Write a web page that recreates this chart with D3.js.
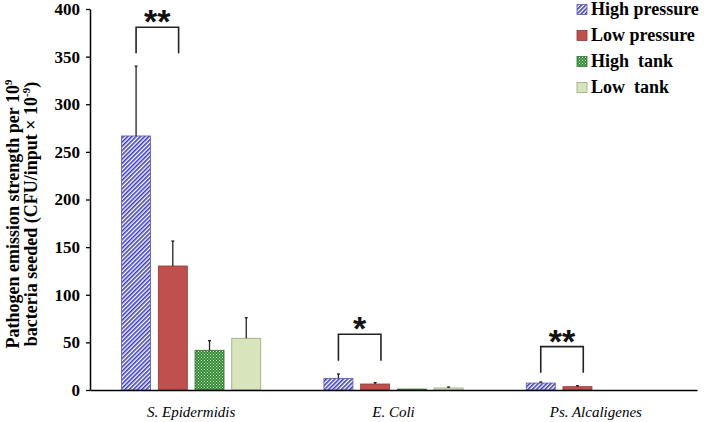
<!DOCTYPE html>
<html><head><meta charset="utf-8">
<script src="https://cdn.jsdelivr.net/npm/d3@7"></script>
<style>body{margin:0;background:#fff}svg{display:block}</style>
</head><body>
<svg id="c" width="709" height="422"></svg>
<script>
const categories = ["S. Epidermidis", "E. Coli", "Ps. Alcaligenes"];
const seriesNames = ["High pressure", "Low pressure", "High  tank", "Low  tank"];
const highPressure = [266.7, 12.2, 7.3];
const lowPressure = [130.2, 6.3, 3.5];
const highTank = [41.7, 1.0, 0];
const lowTank = [54.3, 2.1, 0];
const highPressureErr = [73.3, 4.6, 1.1];
const lowPressureErr = [26.2, 1.4, 1.0];
const highTankErr = [10.1, 0, 0];
const lowTankErr = [21.6, 1.0, 0];
const yTicks = [0, 50, 100, 150, 200, 250, 300, 350, 400];
const sigLabels = ["**", "*", "**"];
const sigTop = [380.8, 58.5, 45.5];
const sigBottom = [353.5, 30.8, 18.2];

const values = [highPressure, lowPressure, highTank, lowTank];
const errors = [highPressureErr, lowPressureErr, highTankErr, lowTankErr];
const SERIF = "'Liberation Serif', 'Times New Roman', Times, serif";

const svg = d3.select("#c");
const defs = svg.append("defs");
const p1 = defs.append("pattern").attr("id","stripe").attr("patternUnits","userSpaceOnUse")
  .attr("width",3).attr("height",3).attr("patternTransform","rotate(45)");
p1.append("rect").attr("width",3).attr("height",3).attr("fill","#ffffff");
p1.append("rect").attr("width",1.6).attr("height",3).attr("fill","#3b3bc4");
const p2 = defs.append("pattern").attr("id","check").attr("patternUnits","userSpaceOnUse")
  .attr("width",3).attr("height",3);
p2.append("rect").attr("width",3).attr("height",3).attr("fill","#2f8a2f");
p2.append("rect").attr("x",0).attr("y",0).attr("width",1).attr("height",1).attr("fill","#d8efd8");
p2.append("rect").attr("x",1.5).attr("y",1.5).attr("width",1).attr("height",1).attr("fill","#d8efd8");

const fills = ["url(#stripe)", "#c0504d", "url(#check)", "#d8e4bc"];
const strokes = ["#5a5ab0", "#8c3a38", "#3d6b3d", "#98a67a"];

const x0 = d3.scaleBand().domain(categories).range([90, 697]).padding(0);
const x1 = d3.scaleBand().domain(d3.range(4)).range([0, x0.bandwidth()]).paddingInner(0.21).paddingOuter(0.86);
const y = d3.scaleLinear().domain([0, 400]).range([390, 9]);

const g = svg.append("g");
categories.forEach((c, ci) => {
  values.forEach((s, si) => {
    const v = s[ci];
    if (v <= 0) return;
    const bx = x0(c) + x1(si);
    g.append("rect").attr("x", bx).attr("y", y(v)).attr("width", x1.bandwidth())
      .attr("height", y(0) - y(v)).attr("fill", fills[si]).attr("stroke", strokes[si]).attr("stroke-width", 0.8);
    const e = errors[si][ci];
    if (e > 0) {
      const cx = bx + x1.bandwidth() / 2;
      g.append("line").attr("x1", cx).attr("x2", cx).attr("y1", y(v)).attr("y2", y(v + e))
        .attr("stroke", "#222").attr("stroke-width", 1.3);
      g.append("line").attr("x1", cx - 1.5).attr("x2", cx + 1.5).attr("y1", y(v + e)).attr("y2", y(v + e))
        .attr("stroke", "#222").attr("stroke-width", 1.3);
    }
  });
});

const yAxis = d3.axisLeft(y).tickValues(yTicks).tickSize(4).tickPadding(6).tickSizeOuter(0);
const ya = svg.append("g").attr("transform", "translate(90,0)").call(yAxis);
ya.attr("font-family", null);
ya.select(".domain").attr("stroke", "#000").attr("stroke-width", 1.5);
ya.selectAll(".tick line").attr("stroke", "#000").attr("stroke-width", 1.3);
ya.selectAll(".tick text").style("font-family", SERIF)
  .style("font-weight", "bold").style("font-size", "17px").attr("fill", "#000");

const xAxis = d3.axisBottom(x0).tickSize(0).tickPadding(16).tickSizeOuter(0);
const xa = svg.append("g").attr("transform", "translate(0,390)").call(xAxis);
xa.attr("font-family", null);
xa.select(".domain").attr("stroke", "#000").attr("stroke-width", 1.5);
xa.selectAll(".tick text").style("font-family", SERIF)
  .style("font-style", "italic").style("font-size", "15px").attr("fill", "#000");

function title(tx, parts) {
  const t = svg.append("text").attr("transform", `translate(${tx},214) rotate(-90)`)
    .attr("text-anchor", "middle").style("font-family", SERIF)
    .style("font-weight", "bold").style("font-size", "18px").attr("fill", "#000");
  parts.forEach(p => {
    const ts = t.append("tspan").text(p.t);
    if (p.dy) ts.attr("dy", p.dy);
    if (p.fs) ts.style("font-size", p.fs);
  });
}
title(19, [{t: "Pathogen emission strength per 10"}, {t: "9", dy: -7, fs: "11px"}]);
title(37, [{t: "bacteria seeded (CFU/input × 10"}, {t: "-9", dy: -7, fs: "11px"}, {t: ")", dy: 7}]);

categories.forEach((c, ci) => {
  const xl = x0(c) + x1(0) + x1.bandwidth() / 2;
  const xr = x0(c) + x1(1) + x1.bandwidth() * 0.7;
  const yt = y(sigTop[ci]), yb = y(sigBottom[ci]);
  svg.append("path").attr("d", `M${xl},${yb}V${yt}H${xr}V${yb}`)
    .attr("fill", "none").attr("stroke", "#222").attr("stroke-width", 1.6);
  const fs = 34;
  svg.append("text").attr("x", (xl + xr) / 2).attr("y", yt - 4 + 0.3 * fs)
    .attr("text-anchor", "middle").style("font-family", "'Liberation Sans', Arial, sans-serif")
    .style("font-weight", "bold").style("font-size", fs + "px").attr("fill", "#111").text(sigLabels[ci]);
});

const lg = svg.append("g");
seriesNames.forEach((n, i) => {
  const by = 15 + i * 26;
  lg.append("rect").attr("x", 577).attr("y", by - 10.5).attr("width", 10).attr("height", 10)
    .attr("fill", fills[i]).attr("stroke", strokes[i]).attr("stroke-width", 0.8);
  lg.append("text").attr("x", 591).attr("y", by).style("white-space", "pre")
    .style("font-family", SERIF).style("font-weight", "bold")
    .style("font-size", "18px").attr("fill", "#000").text(n);
});
</script>
</body></html>
